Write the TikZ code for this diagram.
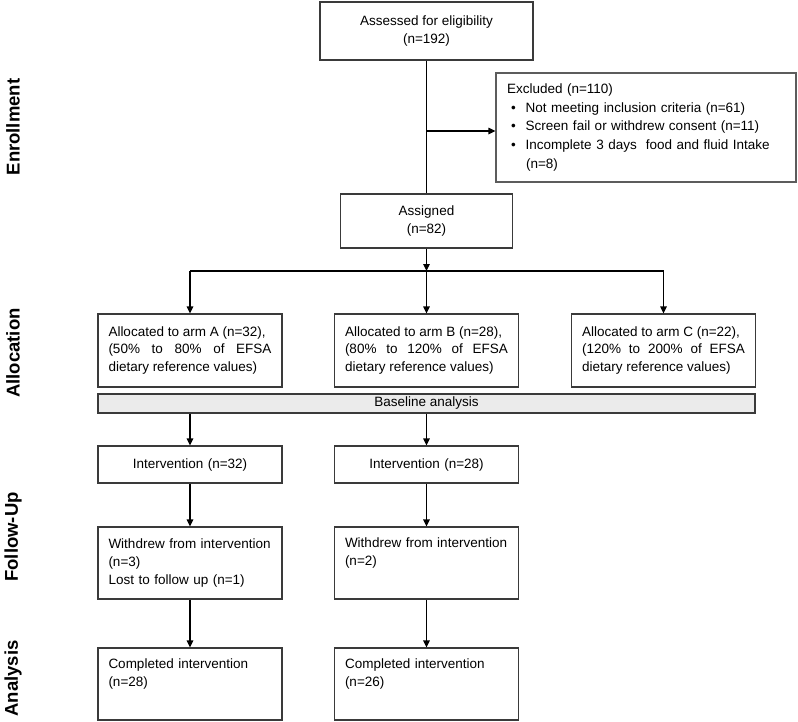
\documentclass[tikz,border=0pt]{standalone}
\usepackage{fontspec}
\setmainfont{Liberation Sans}
\usetikzlibrary{arrows.meta}

\definecolor{boxgray}{HTML}{3A3A3A}
\definecolor{exclgray}{HTML}{5C5C5C}
\definecolor{barfill}{HTML}{EBEBEB}

\tikzset{
  box/.style={draw=boxgray, line width=1.2pt, fill=white, inner sep=0pt,
    font=\fontsize{13.5}{18}\selectfont},
  cell/.style={box, minimum width=184pt, minimum height=72pt, text width=163pt, align=left},
  armbox/.style={cell, minimum height=73pt, align=justify,
    font={\fontsize{13.5}{17.5}\selectfont\tolerance=10000\hyphenpenalty=10000}},
  stage/.style={rotate=90, font=\fontsize{18.5}{20}\selectfont\bfseries},
  link/.style={line width=1.2pt}
}

\begin{document}
\begin{tikzpicture}[x=1pt,y=-1pt,>={Triangle[length=7pt,width=6.5pt]}]

    \useasboundingbox (0,0) rectangle (798,721);

    \node[stage] (enrol) at (13,127) {Enrollment};
    \node[stage] (alloc) at (13,353) {Allocation};
    \node[stage] (follow) at (13,537) {Follow-Up};
    \node[stage] (anal) at (13,678.5) {Analysis};

    \node[box, minimum width=213pt, minimum height=58pt, align=center] (assess) at (426.5,31) {Assessed for eligibility\\(n=192)};
    \node[box, draw=exclgray, minimum width=300pt, minimum height=109pt, text width=278pt, align=left,
      font=\fontsize{13.5}{18.7}\selectfont] (excl) at (646,127.5) {Excluded (n=110)\\
      \hspace*{4pt}\textbullet\hspace{10pt}Not meeting inclusion criteria (n=61)\\
      \hspace*{4pt}\textbullet\hspace{10pt}Screen fail or withdrew consent (n=11)\\
      \hspace*{4pt}\textbullet\hspace{10pt}Incomplete 3 days~ food and fluid Intake\\
      \hspace*{19pt}(n=8)};
    \node[box, minimum width=172pt, minimum height=54pt, align=center] (assign) at (426.5,221) {Assigned\\(n=82)};

    \node[armbox] (armA) at (190,350.5) {Allocated to arm A (n=32),\\(50\% to 80\% of EFSA dietary reference values)};
    \node[armbox] (armB) at (426.5,350.5) {Allocated to arm B (n=28),\\(80\% to 120\% of EFSA dietary reference values)};
    \node[armbox] (armC) at (663.5,350.5) {Allocated to arm C (n=22),\\(120\% to 200\% of EFSA dietary reference values)};

    \node[box, fill=barfill, minimum width=657pt, minimum height=19pt] (base) at (426.5,403.5) {Baseline analysis};

    \node[cell, minimum height=37pt, align=center] (intA) at (190,464.5) {Intervention (n=32)};
    \node[cell, minimum height=37pt, align=center] (intB) at (426.5,464.5) {Intervention (n=28)};

    \node[cell] (withA) at (190,563) {Withdrew from intervention\\(n=3)\\Lost to follow up (n=1)};
    \node[cell] (withB) at (426.5,563) {Withdrew from intervention\\(n=2)\\\strut};

    \node[cell] (compA) at (190,684) {Completed intervention\\(n=28)\\\strut};
    \node[cell] (compB) at (426.5,684) {Completed intervention\\(n=26)\\\strut};

    \coordinate (split) at (426.5,131);
    \coordinate (fork) at (426.5,271);

    \draw[link] (assess) -- (assign);
    \draw[link,->] (split) -- (split -| excl.west);
    \draw[link,->] (assign) -- (fork);
    \draw[link] (armA.north |- fork) -- (armC.north |- fork);
    \draw[link,->] (armA.north |- fork) -- (armA);
    \draw[link,->] (fork) -- (armB);
    \draw[link,->] (armC.north |- fork) -- (armC);

    \draw[link,->] (intA |- base.south) -- (intA);
    \draw[link,->] (intB |- base.south) -- (intB);
    \draw[link,->] (intA) -- (withA);
    \draw[link,->] (intB) -- (withB);
    \draw[link,->] (withA) -- (compA);
    \draw[link,->] (withB) -- (compB);

\end{tikzpicture}
\end{document}
